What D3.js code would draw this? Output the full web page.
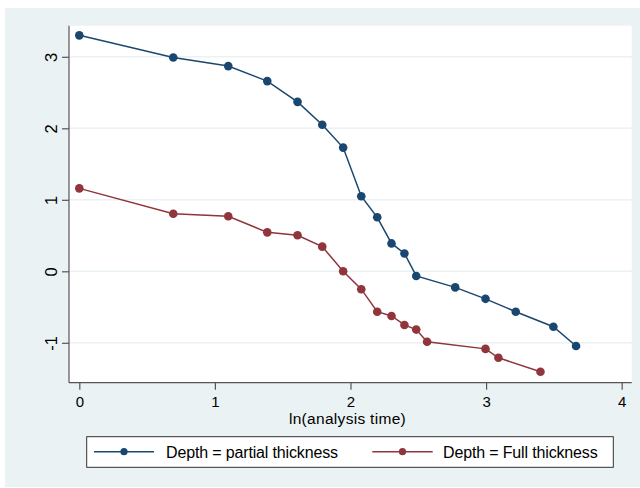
<!DOCTYPE html>
<html>
<head>
<meta charset="utf-8">
<script src="https://cdn.jsdelivr.net/npm/d3@7"></script>
<style>
  html, body { margin: 0; padding: 0; background: #ffffff; }
  svg { display: block; }
  text { font-family: "Liberation Sans", Arial, sans-serif; fill: #000; }
</style>
</head>
<body>
<svg id="chart" width="640" height="488"></svg>
<script>
// Analysis times (plotted on a log scale) and estimates per depth group
const partialTimes = [1, 2, 3, 4, 5, 6, 7, 8, 9, 10, 11, 12, 16, 20, 25, 33, 39];
const partialValues = [3.30, 2.99, 2.87, 2.66, 2.37, 2.05, 1.73, 1.05, 0.755, 0.39, 0.25, -0.065, -0.225, -0.385, -0.565, -0.775, -1.045];

const fullTimes = [1, 2, 3, 4, 5, 6, 7, 8, 9, 10, 11, 12, 13, 20, 22, 30];
const fullValues = [1.16, 0.805, 0.77, 0.545, 0.505, 0.345, 0.0, -0.25, -0.565, -0.625, -0.75, -0.815, -0.985, -1.085, -1.21, -1.405];

const seriesNames = ["Depth = partial thickness", "Depth = Full thickness"];
const seriesColors = ["#1a476f", "#90353b"];

const xTicks = [0, 1, 2, 3, 4];
const yTicks = [-1, 0, 1, 2, 3];
const xTitle = "ln(analysis time)";

const svg = d3.select("#chart");

// outer graph region
svg.append("rect")
  .attr("x", 5).attr("y", 8).attr("width", 635).attr("height", 479)
  .attr("fill", "#eaf2f3");

const plot = { left: 69, right: 631.7, top: 25.7, bottom: 382.7 };

const x = d3.scaleLinear().domain([-0.076, 4.074]).range([plot.left, plot.right]);
const y = d3.scaleLinear().domain([-1.558, 3.435]).range([plot.bottom, plot.top]);

// plot region
svg.append("rect")
  .attr("x", plot.left).attr("y", plot.top)
  .attr("width", plot.right - plot.left).attr("height", plot.bottom - plot.top)
  .attr("fill", "#ffffff");

// horizontal gridlines
svg.append("g")
  .selectAll("line")
  .data(yTicks)
  .join("line")
  .attr("x1", plot.left).attr("x2", plot.right)
  .attr("y1", d => y(d)).attr("y2", d => y(d))
  .attr("stroke", "#eaf2f3").attr("stroke-width", 1.5);

// plain hyphen for negatives
const fmt = d => String(d);

// y axis
const yAxis = svg.append("g")
  .attr("transform", `translate(${plot.left},0)`)
  .call(d3.axisLeft(y).tickValues(yTicks).tickSize(7).tickSizeOuter(0).tickFormat(fmt));
yAxis.select(".domain").attr("stroke", "#555555").attr("stroke-width", 1.2)
  .attr("d", `M0,${plot.top}V${plot.bottom}`);
yAxis.selectAll(".tick line").attr("stroke", "#555555").attr("stroke-width", 1.2);
yAxis.selectAll(".tick text")
  .attr("x", null).attr("dy", null)
  .attr("transform", "translate(-12.5,0) rotate(-90)")
  .attr("text-anchor", "middle")
  .attr("font-size", 16.5)
  .attr("font-family", "Liberation Sans, Arial, sans-serif")
  .attr("fill", "#000");

// x axis
const xAxis = svg.append("g")
  .attr("transform", `translate(0,${plot.bottom})`)
  .call(d3.axisBottom(x).tickValues(xTicks).tickSize(7).tickSizeOuter(0).tickFormat(fmt));
xAxis.select(".domain").attr("stroke", "#555555").attr("stroke-width", 1.2)
  .attr("d", `M${plot.left},0H${plot.right}`);
xAxis.selectAll(".tick line").attr("stroke", "#555555").attr("stroke-width", 1.2);
xAxis.selectAll(".tick text")
  .attr("y", 24.5).attr("dy", null)
  .attr("font-size", 15)
  .attr("font-family", "Liberation Sans, Arial, sans-serif")
  .attr("fill", "#000");

// x axis title
svg.append("text")
  .attr("x", 347.5).attr("y", 424)
  .attr("text-anchor", "middle")
  .attr("font-size", 15.5)
  .attr("letter-spacing", 0.3)
  .text(xTitle);

// series
const series = [
  { name: seriesNames[0], color: seriesColors[0], pts: partialTimes.map((t, i) => [Math.log(t), partialValues[i]]) },
  { name: seriesNames[1], color: seriesColors[1], pts: fullTimes.map((t, i) => [Math.log(t), fullValues[i]]) }
];

const line = d3.line().x(d => x(d[0])).y(d => y(d[1]));

series.forEach(s => {
  svg.append("path")
    .attr("d", line(s.pts))
    .attr("fill", "none")
    .attr("stroke", s.color)
    .attr("stroke-width", 1.5);
  svg.append("g")
    .selectAll("circle")
    .data(s.pts)
    .join("circle")
    .attr("cx", d => x(d[0]))
    .attr("cy", d => y(d[1]))
    .attr("r", 4.3)
    .attr("fill", s.color);
});

// legend
const legend = svg.append("g");
legend.append("rect")
  .attr("x", 86.7).attr("y", 436.7).attr("width", 526.6).attr("height", 30.6)
  .attr("fill", "#ffffff").attr("stroke", "#333333").attr("stroke-width", 1);

const legendItems = [
  { x0: 94, x1: 154, text: 166 },
  { x0: 372.3, x1: 432.7, text: 443 }
];
series.forEach((s, i) => {
  const it = legendItems[i];
  const ly = 451.7;
  legend.append("line")
    .attr("x1", it.x0).attr("x2", it.x1).attr("y1", ly).attr("y2", ly)
    .attr("stroke", s.color).attr("stroke-width", 1.5);
  legend.append("circle")
    .attr("cx", (it.x0 + it.x1) / 2).attr("cy", ly).attr("r", 3.6)
    .attr("fill", s.color);
  legend.append("text")
    .attr("x", it.text).attr("y", ly + 6.5)
    .attr("font-size", 16)
    .attr("letter-spacing", -0.15)
    .text(s.name);
});
</script>
</body>
</html>
